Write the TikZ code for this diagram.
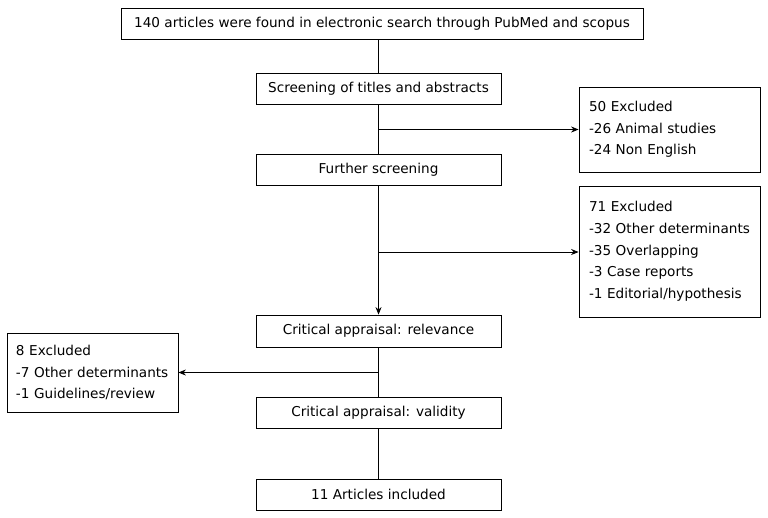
\documentclass[tikz,border=0pt]{standalone}
\usepackage{fontspec}
\setmainfont{DejaVu Sans}
\usetikzlibrary{arrows.meta}
\hyphenpenalty=10000

\begin{document}
\begin{tikzpicture}[x=1pt,y=-1pt,
        font=\fontsize{13.6}{21.7}\selectfont,line width=0.8pt,
        stepbox/.style={draw,minimum width=245pt,minimum height=31pt,inner sep=0pt},
        exbox/.style={draw,align=left,inner xsep=10pt,inner ysep=0pt},
        arr/.style={-{Stealth[length=7.5pt,width=6pt]}}]

    \useasboundingbox (0,0) rectangle (768,517);

    \node[stepbox,minimum width=522pt]  (search)  at (382,23.5)  {140 articles were found in electronic search through PubMed and scopus};
    \node[stepbox]  (screen)  at (378.5,88.5)  {Screening of titles and abstracts};
    \node[stepbox]  (further) at (378.5,169.5) {Further screening};
    \node[stepbox,minimum height=32pt]  (relev)   at (378.5,331)   {Critical appraisal: relevance};
    \node[stepbox]  (valid)   at (378.5,412.5) {Critical appraisal: validity};
    \node[stepbox]  (incl)    at (378.5,494.5) {11 Articles included};

    \node[exbox,text width=161pt,minimum height=85pt]  (exA) at (669.5,129.5) {50 Excluded\\-26 Animal studies\\-24 Non English};
    \node[exbox,text width=161pt,minimum height=131pt] (exB) at (669.5,251.5) {71 Excluded\\-32 Other determinants\\-35 Overlapping\\-3 Case reports\\-1 Editorial/hypothesis};
    \node[exbox,inner xsep=9pt,text width=153pt,minimum height=79pt] (exC) at (92.5,372.5) {8 Excluded\\-7 Other determinants\\-1 Guidelines/review};

    \coordinate (jA) at (378.5,129.5);
    \coordinate (jB) at (378.5,252);
    \coordinate (jC) at (378.5,372.5);

    \draw (search.south -| screen) -- (screen);
    \draw (screen) -- (further);
    \draw[arr] (jA) -- (exA);
    \draw[arr] (further) -- (relev);
    \draw[arr] (jB) -- (jB -| exB.west);
    \draw (relev) -- (valid);
    \draw[arr] (jC) -- (exC);
    \draw (valid) -- (incl);
\end{tikzpicture}
\end{document}
